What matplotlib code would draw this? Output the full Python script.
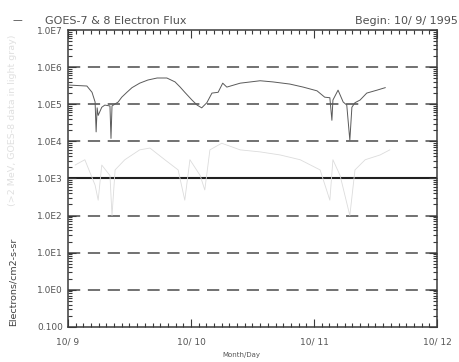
import numpy as np
import matplotlib
matplotlib.use("Agg")
import matplotlib.pyplot as plt
from matplotlib.ticker import FixedLocator, NullFormatter

# hours after 10/9 00:00 UT and electron flux, GOES-7 (upper) and GOES-8 (lower)
hours_hi = [0, 3.7, 4.7, 5.3, 5.5, 5.7, 5.9, 6.6, 7.2, 8.2, 8.4, 8.6, 9.8, 10.5,
            11.5, 12.5, 14, 15.6, 17.4, 19.3, 20.9, 21.9, 22.8, 24.2, 25.2, 26.1,
            27.1, 28.1, 29.3, 30.2, 31, 33.6, 37.5, 40, 43.3, 45.9, 48.6, 50.1,
            51.1, 51.5, 51.7, 52.7, 53.7, 54.4, 55, 55.4, 56, 57, 58.3, 60.3, 61.9]
flux_hi = [3.3e5, 3.1e5, 2.1e5, 1.15e5, 1.8e4, 8e4, 5e4, 8.3e4, 9.5e4, 9e4, 1.2e4,
           9e4, 1.15e5, 1.55e5, 2.1e5, 2.8e5, 3.7e5, 4.5e5, 5.1e5, 5.1e5, 4e5,
           2.9e5, 2.1e5, 1.3e5, 9.5e4, 8e4, 1.1e5, 2e5, 2.1e5, 3.7e5, 2.9e5, 3.7e5,
           4.3e5, 4e5, 3.5e5, 2.9e5, 2.3e5, 1.55e5, 1.5e5, 3.7e4, 1.3e5, 2.4e5,
           1.15e5, 9.5e4, 1.07e4, 8.3e4, 1.1e5, 1.3e5, 2e5, 2.4e5, 2.8e5]

hours_lo = [1.4, 3.3, 5.3, 5.9, 6.6, 8.2, 8.6, 9.2, 11.1, 14, 16, 18.9, 21.5, 22.8,
            23.8, 25.8, 26.7, 27.7, 30, 33.6, 37.5, 41.4, 45.3, 49.2, 51.1, 51.7,
            53.1, 55, 56, 58, 60.9, 62.8]
flux_lo = [2.3e3, 3.2e3, 660, 260, 2.3e3, 1.2e3, 100, 1.7e3, 3.2e3, 5.9e3, 6.6e3,
           3.2e3, 1.7e3, 260, 3.2e3, 1.2e3, 490, 5.9e3, 8.9e3, 5.9e3, 5.2e3, 4.3e3,
           3.2e3, 1.7e3, 260, 3.2e3, 1.2e3, 100, 1.7e3, 3.2e3, 4.3e3, 5.9e3]

day_labels = ["10/ 9", "10/ 10", "10/ 11", "10/ 12"]
decade_labels = ["0.100", "1.0E0", "1.0E1", "1.0E2", "1.0E3",
                 "1.0E4", "1.0E5", "1.0E6", "1.0E7"]

ink = "#3a3a3a"

fig = plt.figure(figsize=(4.59, 3.62), dpi=100)
ax = fig.add_axes([0.148, 0.097, 0.804, 0.820])

ax.set_yscale("log")
ax.set_ylim(0.1, 1e7)
ax.set_xlim(0, 72)

# reference lines at each decade, solid at 1E3
for k in range(0, 7):
    v = 10.0 ** k
    if k == 3:
        ax.axhline(v, color="#202020", lw=1.5, zorder=1)
    else:
        ax.axhline(v, color="#4a4a4a", lw=1.1, dashes=(8, 5), zorder=1)

ax.plot(hours_lo, flux_lo, color="#dcdcdc", lw=0.6, zorder=2)
ax.plot(hours_hi, flux_hi, color="#5a5a5a", lw=0.7, zorder=3)

# axes ticks
ax.xaxis.set_major_locator(FixedLocator([0, 24, 48, 72]))
ax.xaxis.set_minor_locator(FixedLocator(np.arange(0, 72.01, 1.5)))
ax.set_xticklabels(day_labels)
ax.yaxis.set_major_locator(FixedLocator([10.0 ** k for k in range(-1, 8)]))
ax.set_yticklabels(decade_labels)
minors = [m * 10.0 ** k for k in range(-1, 7) for m in range(2, 10)]
ax.yaxis.set_minor_locator(FixedLocator(minors))
ax.yaxis.set_minor_formatter(NullFormatter())

ax.tick_params(which="both", direction="in", top=True, right=True,
               color=ink, labelcolor="#555555", labelsize=6.5, width=0.8)
ax.tick_params(which="major", length=6)
ax.tick_params(which="minor", length=3)
ax.tick_params(axis="x", pad=8)
for s in ax.spines.values():
    s.set_color(ink)
    s.set_linewidth(1.1)

ax.set_xlabel("Month/Day", fontsize=5, color="#555555", labelpad=2)
ax.xaxis.set_label_coords(0.47, -0.085)

# titles
fig.text(0.098, 0.935, "GOES-7 & 8 Electron Flux", fontsize=8, color="#505050")
fig.text(0.997, 0.935, "Begin: 10/ 9/ 1995", fontsize=8, color="#505050", ha="right")
fig.text(0.028, 0.935, "\u2014", fontsize=7, color="#505050")

# y labels, dark for GOES-7, pale for GOES-8
fig.text(0.028, 0.10, "Electrons/cm2-s-sr", fontsize=6.8, color="#404040",
         rotation=90, va="bottom", ha="center")
fig.text(0.028, 0.43, "(>2 MeV, GOES-8 data in light gray)", fontsize=6.8,
         color="#e0e0e0", rotation=90, va="bottom", ha="center")

fig.savefig("out.png", dpi=100)
